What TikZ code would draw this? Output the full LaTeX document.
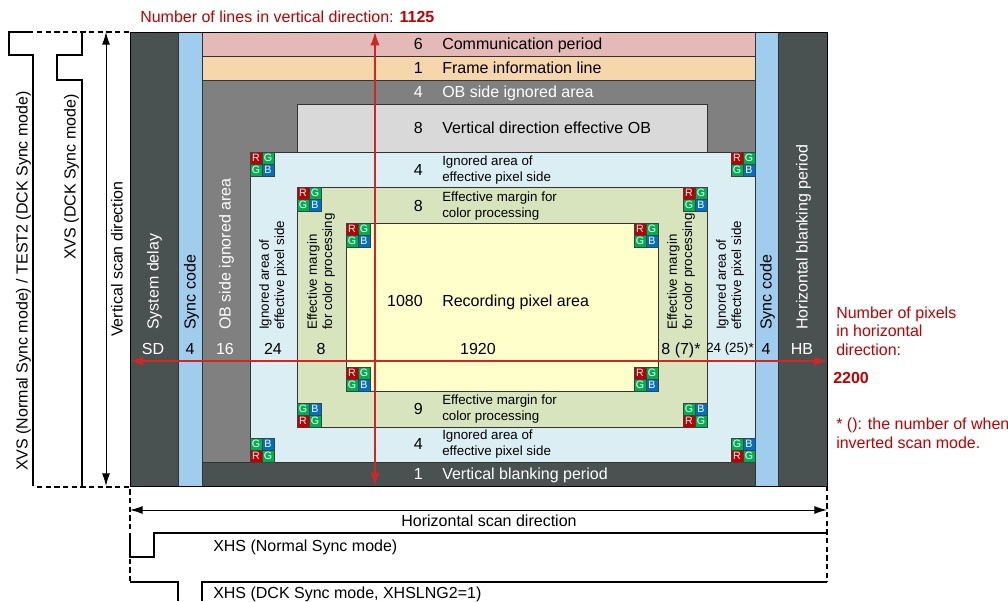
\documentclass[tikz,border=0pt]{standalone}
\usepackage{fontspec}
\setmainfont{Liberation Sans}
\usetikzlibrary{arrows.meta}

\definecolor{sysgray}{RGB}{74,81,81}
\definecolor{syncblue}{RGB}{160,204,238}
\definecolor{commpink}{RGB}{229,185,183}
\definecolor{framepeach}{RGB}{248,214,172}
\definecolor{obgray}{RGB}{128,128,128}
\definecolor{voblight}{RGB}{217,217,217}
\definecolor{ignblue}{RGB}{219,238,244}
\definecolor{margreen}{RGB}{216,228,189}
\definecolor{recyellow}{RGB}{255,255,204}
\definecolor{notered}{RGB}{192,0,0}
\definecolor{redline}{RGB}{204,40,40}
\definecolor{cellR}{RGB}{192,0,0}
\definecolor{cellG}{RGB}{0,176,80}
\definecolor{cellB}{RGB}{0,112,192}

\tikzset{
  area/.style={draw=black!80, line width=0.5pt},
  big/.style={font=\fontsize{12}{14}\selectfont, inner sep=0pt, text height=8.6pt, text depth=0pt},
  small/.style={font=\fontsize{10}{11.5}\selectfont, inner sep=0pt, align=left},
  redtxt/.style={font=\fontsize{12}{14}\selectfont, inner sep=0pt, align=left, text=notered},
  cell/.style={draw=black!75, line width=0.4pt, minimum size=9pt, inner sep=0pt, text=white, font=\fontsize{8}{8}\selectfont},
  scanarrow/.style={line width=0.75pt, {Latex[length=9.5pt,width=6pt]}-{Latex[length=9.5pt,width=6pt]}},
  redarrow/.style={draw=redline, line width=0.9pt, {Latex[length=10pt,width=7pt]}-{Latex[length=10pt,width=7pt]}},
  wave/.style={line width=1.1pt},
  guide/.style={line width=0.9pt, dash pattern=on 4pt off 2.5pt},
  rgbtop/.pic={
    \node[cell, fill=cellR] (-r) at (6,6) {R};
    \node[cell, fill=cellG] (-g) at (18,6) {G};
    \node[cell, fill=cellG] (-h) at (6,18) {G};
    \node[cell, fill=cellB] (-b) at (18,18) {B};
  },
  gbbottom/.pic={
    \node[cell, fill=cellG] (-g) at (6,6) {G};
    \node[cell, fill=cellB] (-b) at (18,6) {B};
    \node[cell, fill=cellR] (-r) at (6,18) {R};
    \node[cell, fill=cellG] (-h) at (18,18) {G};
  }
}

\begin{document}
\begin{tikzpicture}[x=0.75pt, y=-0.75pt]
  \useasboundingbox (0,0) rectangle (1008,601);
  \draw[area, fill=sysgray] (130,32) rectangle (178,486);
  \draw[area, fill=syncblue] (178,32) rectangle (202,486);
  \draw[area, fill=commpink] (202,32) rectangle (755,56);
  \draw[area, fill=framepeach] (202,56) rectangle (755,80);
  \draw[area, fill=obgray] (202,80) rectangle (755,462);
  \draw[area, fill=voblight] (297,104) rectangle (707,152);
  \draw[area, fill=ignblue] (250,152) rectangle (755,462);
  \draw[area, fill=margreen] (297,187) rectangle (707,427);
  \draw[area, fill=recyellow] (346,223) rectangle (658,391);
  \draw[area, fill=sysgray] (202,462) rectangle (755,486);
  \draw[area, fill=syncblue] (755,32) rectangle (778,486);
  \draw[area, fill=sysgray] (778,32) rectangle (827,486);
  \draw[line width=0.6pt] (130,32) rectangle (827,486);

  \foreach \px/\py [count=\i] in {250/152, 731/152, 297/187, 683/187, 346/223, 634/223, 346/367, 634/367}
    \pic (top\i) at (\px,\py) {rgbtop};
  \foreach \px/\py [count=\i] in {297/403, 683/403, 250/438, 731/438}
    \pic (bot\i) at (\px,\py) {gbbottom};

  \foreach \ry/\rn/\rc/\rt [count=\i] in {44/6/black/Communication period, 68/1/black/Frame information line, 92/4/white/OB side ignored area, 128/8/black/Vertical direction effective OB, 301/1080/black/Recording pixel area, 474/1/white/Vertical blanking period}
  {
    \node[big, text=\rc, anchor=east] (rown\i) at (423,\ry) {\rn};
    \node[big, text=\rc, anchor=west] (rowt\i) at (442,\ry) {\rt};
  }
  \foreach \ry/\rn/\rt [count=\i] in {170/4/Ignored area of\\effective pixel side, 206/8/Effective margin for\\color processing, 409/9/Effective margin for\\color processing, 444/4/Ignored area of\\effective pixel side}
  {
    \node[big, anchor=east] (subn\i) at (423,\ry) {\rn};
    \node[small, anchor=west] (subt\i) at (442,\ry) {\rt};
  }

  \foreach \cx/\cc/\ct [count=\i] in {153/white/System delay, 190/black/Sync code, 225/white/OB side ignored area, 766/black/Sync code, 802/white/Horizontal blanking period}
    \node[big, text=\cc, rotate=90, anchor=west] (colt\i) at (\cx,330) {\ct};
  \foreach \cx/\ct [count=\i] in {273/Ignored area of\\effective pixel side, 321/Effective margin\\for color processing, 681/Effective margin\\for color processing, 730/Ignored area of\\effective pixel side}
    \node[small, rotate=90, anchor=west] (cols\i) at (\cx,330) {\ct};

  \foreach \cx/\cn/\cc [count=\i] in {153/SD/white, 190/4/black, 225/16/white, 273/24/black, 321/8/black, 478/1920/black, 681/8 (7)*/black, 766/4/black, 802/HB/white}
    \node[big, text=\cc] (coln\i) at (\cx,349) {\cn};
  \node[small] (coln10) at (730,349) {24 (25)*};

  \coordinate (rtop) at (375,32);
  \coordinate (rbot) at (375,486);
  \coordinate (rleft) at (130,361);
  \coordinate (rright) at (827,361);
  \draw[redarrow] (rtop) -- (rbot);
  \draw[redarrow] (rleft) -- (rright);

  \node[redtxt, anchor=west] (vcount) at (140,17) {Number of lines in vertical direction: \textbf{1125}};
  \node[redtxt, anchor=west] (hcount) at (836,331) {Number of pixels\\in horizontal\\direction:};
  \node[redtxt, anchor=west] (htotal) at (833,378) {\textbf{2200}};
  \node[redtxt, anchor=west] (note) at (836,433) {* (): the number of when\\inverted scan mode.};

  \draw[wave] (33,486) -- (33,55) -- (9,55) -- (9,32) -- (33,32);
  \draw[wave] (82,32) -- (82,55) -- (57,55) -- (57,80) -- (82,80) -- (82,486);
  \draw[guide] (37,32) -- (130,32);
  \draw[guide] (37,487) -- (130,487) -- (130,582);
  \draw[guide] (827,486) -- (827,582);
  \node[big, rotate=90] (xvsn) at (22,281) {XVS (Normal Sync mode) / TEST2 (DCK Sync mode)};
  \node[big, rotate=90] (xvsd) at (70,177) {XVS (DCK Sync mode)};

  \coordinate (vtop) at (106,32);
  \coordinate (vbot) at (106,486);
  \draw[scanarrow] (vtop) -- (vbot);
  \node[big, rotate=90] (vscan) at (117,259) {Vertical scan direction};

  \coordinate (hleft) at (130,510);
  \coordinate (hright) at (827,510);
  \draw[scanarrow] (hleft) -- (hright);
  \node[big] (hscan) at (489,521) {Horizontal scan direction};

  \draw[wave] (130,533) -- (130,557) -- (154,557) -- (154,533) -- (827,533);
  \draw[wave] (130,582) -- (178,582) -- (178,601);
  \draw[wave] (202,601) -- (202,582) -- (827,582);
  \node[big, anchor=west] (xhsn) at (213,546) {XHS (Normal Sync mode)};
  \node[big, anchor=west] (xhsd) at (213,593) {XHS (DCK Sync mode, XHSLNG2=1)};
\end{tikzpicture}
\end{document}
